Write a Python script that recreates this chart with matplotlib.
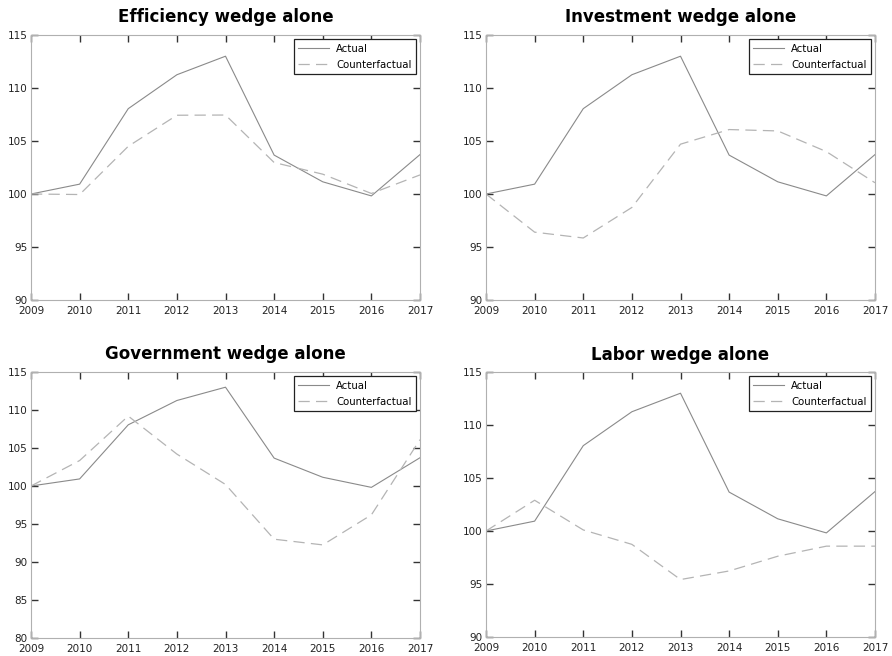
import numpy as np
import matplotlib
matplotlib.use("Agg")
import matplotlib.pyplot as plt

years = [2009, 2010, 2011, 2012, 2013, 2014, 2015, 2016, 2017]
actual = [100.0, 100.93, 108.05, 111.25, 113.0, 103.67, 101.15, 99.82, 103.72]

efficiency_cf = [100.0, 99.95, 104.5, 107.43, 107.45, 102.97, 101.87, 100.05, 101.8]
investment_cf = [100.0, 96.4, 95.85, 98.73, 104.7, 106.08, 105.95, 104.0, 101.06]
government_cf = [100.0, 103.35, 109.2, 104.2, 100.2, 93.0, 92.25, 96.2, 106.1]
labor_cf = [100.0, 102.9, 100.1, 98.74, 95.42, 96.23, 97.62, 98.57, 98.57]

titles = ["Efficiency wedge alone", "Investment wedge alone",
          "Government wedge alone", "Labor wedge alone"]
counterfactuals = [efficiency_cf, investment_cf, government_cf, labor_cf]
ylims = [(90, 115), (90, 115), (80, 115), (90, 115)]

# axes boxes in pixels: left, top, right, bottom
boxes = [(31, 35, 420, 300), (486, 35, 875, 300),
         (31, 372, 420, 638), (486, 372, 875, 637)]

W, H = 892, 656
fig = plt.figure(figsize=(W / 100, H / 100), dpi=100)

for i in range(4):
    l, t, r, b = boxes[i]
    ax = fig.add_axes([l / W, 1 - b / H, (r - l) / W, (b - t) / H])
    ax.plot(years, actual, color="#8a8a8a", lw=0.8, label="Actual")
    ax.plot(years, counterfactuals[i], color="#b4b4b4", lw=0.9,
            dashes=(9, 5), label="Counterfactual")
    ax.set_xlim(2009, 2017)
    ax.set_ylim(*ylims[i])
    ax.set_xticks(years)
    ax.set_yticks(np.arange(ylims[i][0], ylims[i][1] + 1, 5))
    ax.tick_params(direction="in", top=True, right=True, length=5,
                   width=1, color="#333333", labelsize=7.5, pad=2.5,
                   labelcolor="#222222")
    ax.tick_params(axis="x", pad=4)
    for s in ax.spines.values():
        s.set_color("#b0b0b0")
        s.set_linewidth(0.8)
    ax.set_title(titles[i], fontsize=12, fontweight="bold", pad=9)
    leg = ax.legend(loc="upper right", fontsize=7.3, fancybox=False,
                    framealpha=1, edgecolor="#222222", borderaxespad=0.4,
                    handlelength=3.0, borderpad=0.45, labelspacing=0.6,
                    handletextpad=0.7)
    leg.get_frame().set_linewidth(0.9)

fig.savefig("out.png", dpi=100)
